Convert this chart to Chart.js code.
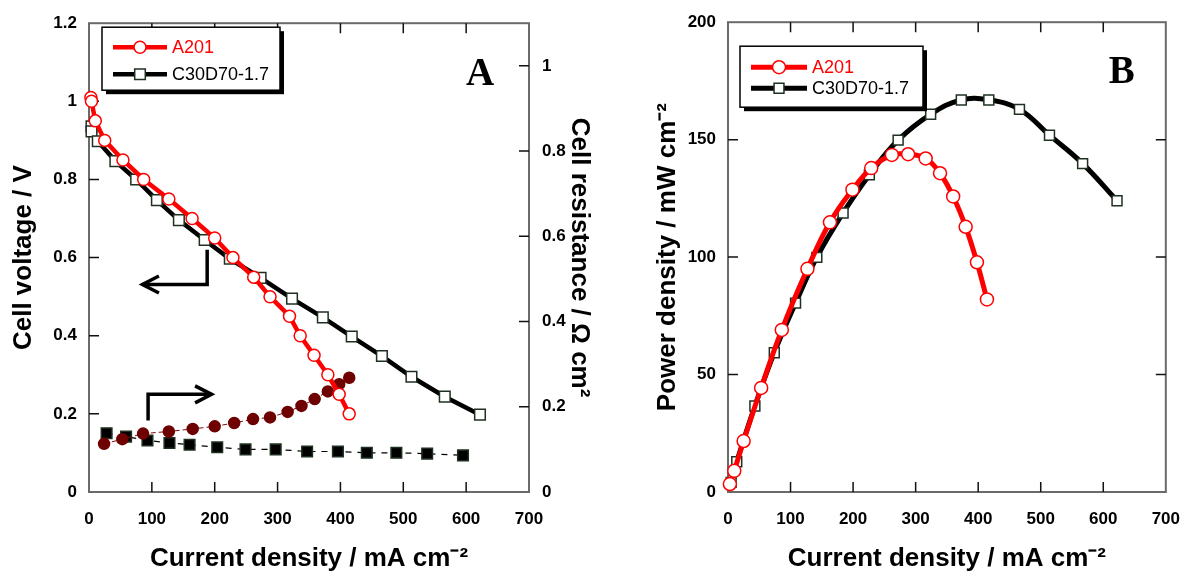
<!DOCTYPE html>
<html>
<head>
<meta charset="utf-8">
<script src="https://cdn.jsdelivr.net/npm/chart.js@4.4.0/dist/chart.umd.min.js"></script>
<style>
  html, body { margin: 0; padding: 0; background: #fff; width: 1197px; height: 571px; overflow: hidden; }
  .panel { position: absolute; top: 0; height: 571px; }
  #wrapA { left: 0; width: 600px; }
  #wrapB { left: 640px; width: 557px; }
</style>
</head>
<body>
<div class="panel" id="wrapA"><canvas id="chartA"></canvas></div>
<div class="panel" id="wrapB"><canvas id="chartB"></canvas></div>
<script>
/* ---------- tick labels ---------- */
const xTicks = [0, 100, 200, 300, 400, 500, 600, 700];
const voltTicks = [0, 0.2, 0.4, 0.6, 0.8, 1, 1.2];
const resTicks = [0, 0.2, 0.4, 0.6, 0.8, 1];
const powerTicks = [0, 50, 100, 150, 200];

const seriesNames = ["A201", "C30D70-1.7"];

/* ---------- panel A : polarisation ---------- */
const jVoltA201 = [3, 4, 10, 25, 54, 87, 127, 164, 200, 229, 262, 288, 319, 336, 358, 380, 398, 414];
const voltA201  = [1.01, 1.0, 0.95, 0.90, 0.85, 0.80, 0.75, 0.70, 0.65, 0.60, 0.55, 0.50, 0.45, 0.40, 0.35, 0.30, 0.25, 0.20];

const jVoltC30 = [4, 4, 14, 42, 75, 108, 143, 184, 224, 273, 323, 372, 418, 466, 513, 566, 622];
const voltC30  = [0.936, 0.923, 0.898, 0.847, 0.80, 0.747, 0.696, 0.645, 0.597, 0.548, 0.495, 0.447, 0.398, 0.348, 0.295, 0.244, 0.198];

/* cell resistance (right axis) */
const jResA201 = [24, 53, 86, 127, 165, 200, 231, 261, 288, 316, 338, 359, 380, 398, 414];
const resA201  = [0.113, 0.124, 0.137, 0.142, 0.148, 0.154, 0.162, 0.171, 0.175, 0.188, 0.202, 0.218, 0.236, 0.253, 0.268];

const jResC30 = [28, 59, 93, 128, 160, 204, 249, 297, 347, 396, 442, 489, 538, 595];
const resC30  = [0.138, 0.130, 0.121, 0.115, 0.111, 0.105, 0.100, 0.100, 0.095, 0.095, 0.092, 0.092, 0.090, 0.086];

/* ---------- panel B : power density ---------- */
const jPowA201 = [3, 10, 25, 53, 86, 127, 163, 199, 229, 262, 288, 316, 339, 360, 380, 398, 414];
const powA201  = [3.4, 9, 21.7, 44.3, 69, 95, 114.8, 128.7, 137.9, 143.5, 143.8, 142, 135.7, 125.8, 112.9, 97.8, 82];

const jPowC30 = [5, 14, 43, 74, 108, 142, 184, 226, 272, 324, 373, 417, 466, 514, 567, 622];
const powC30  = [4.1, 12.9, 36.6, 59.3, 80.4, 99.9, 118.8, 135, 149.8, 160.8, 166.9, 166.9, 162.9, 151.9, 139.8, 124];

/* arrows in panel A (current density, voltage) */
const arrowPaths = [
  [[188, 0.62], [188, 0.531], [85, 0.531]],
  [[94, 0.183], [94, 0.25], [195, 0.25]]
];

const SANS = '"Liberation Sans", Arial, Helvetica, sans-serif';
const SERIF = '"Liberation Serif", "Times New Roman", serif';
Chart.defaults.font.family = SANS;
Chart.defaults.color = "#000";

const pts = (xs, ys) => xs.map((x, i) => ({ x: x, y: ys[i] }));
const fixTicks = list => scale => { scale.ticks = list.map(v => ({ value: v })); };
const tickFont = { size: 17, weight: "bold", family: SANS };
const titleFont = { size: 26, weight: "bold", family: SANS, lineHeight: 1 };

/* --------------------------------------
   frame with inward ticks
----------------------------------------*/
const framePlugin = {
  id: "frame",
  beforeDatasetsDraw(chart, args, o) {
    const { ctx, chartArea: a, scales } = chart;
    ctx.save();
    ctx.strokeStyle = "#6a6a6a";
    ctx.lineWidth = 2;
    ctx.strokeRect(a.left, a.top, a.right - a.left, a.bottom - a.top);
    ctx.strokeStyle = "#111";
    ctx.lineWidth = 1.5;
    const L = 10;
    ctx.beginPath();
    scales.x.ticks.forEach(t => {
      const px = scales.x.getPixelForValue(t.value);
      if (px <= a.left + 1 || px >= a.right - 1) return;
      ctx.moveTo(px, a.bottom); ctx.lineTo(px, a.bottom - L);
      ctx.moveTo(px, a.top); ctx.lineTo(px, a.top + L);
    });
    o.sides.forEach(([id, side]) => {
      const s = scales[id];
      s.ticks.forEach(t => {
        const py = s.getPixelForValue(t.value);
        if (py <= a.top + 1 || py >= a.bottom - 1) return;
        const x0 = side === "left" ? a.left : a.right;
        ctx.moveTo(x0, py);
        ctx.lineTo(x0 + (side === "left" ? L : -L), py);
      });
    });
    ctx.stroke();
    ctx.restore();
  }
};

/* --------------------------------------
   boxed legend, panel letter, arrows
----------------------------------------*/
const decorPlugin = {
  id: "decor",
  afterDraw(chart, args, o) {
    const { ctx, chartArea: a } = chart;
    const lg = o.legend;
    const x0 = a.left + lg.dx, y0 = a.top + lg.dy;
    ctx.save();
    ctx.fillStyle = "#000";
    ctx.fillRect(x0 + 4, y0 + 4, lg.w, lg.h);
    ctx.fillStyle = "#fff";
    ctx.fillRect(x0, y0, lg.w, lg.h);
    ctx.strokeStyle = "#000";
    ctx.lineWidth = 1.5;
    ctx.strokeRect(x0, y0, lg.w, lg.h);
    [0, 1].forEach(i => {
      const ds = chart.data.datasets[i];
      const y = y0 + lg.rowY[i];
      ctx.strokeStyle = ds.borderColor;
      ctx.lineWidth = ds.borderWidth;
      ctx.beginPath();
      ctx.moveTo(x0 + lg.lineX[0], y);
      ctx.lineTo(x0 + lg.lineX[1], y);
      ctx.stroke();
      ctx.fillStyle = ds.pointBackgroundColor;
      ctx.strokeStyle = ds.pointBorderColor;
      ctx.lineWidth = ds.pointBorderWidth;
      Chart.helpers.drawPoint(ctx, {
        pointStyle: ds.pointStyle, radius: ds.pointRadius, rotation: 0, borderWidth: ds.pointBorderWidth
      }, x0 + (lg.lineX[0] + lg.lineX[1]) / 2, y);
      ctx.fillStyle = ds.borderColor;
      ctx.font = "18px " + SANS;
      ctx.textBaseline = "middle";
      ctx.textAlign = "left";
      ctx.fillText(seriesNames[i], x0 + lg.textX, y + 1);
    });

    ctx.fillStyle = "#000";
    ctx.font = "bold 39px " + SERIF;
    ctx.textAlign = "center";
    ctx.textBaseline = "alphabetic";
    ctx.fillText(o.letter, a.right - o.letterDx, a.top + o.letterDy);

    if (o.arrows) {
      const sx = chart.scales.x, sy = chart.scales.y;
      ctx.strokeStyle = "#000";
      ctx.lineWidth = 3.5;
      ctx.lineJoin = "miter";
      o.arrows.forEach(path => {
        const p = path.map(([x, y]) => [sx.getPixelForValue(x), sy.getPixelForValue(y)]);
        ctx.beginPath();
        p.forEach(([x, y], i) => i ? ctx.lineTo(x, y) : ctx.moveTo(x, y));
        ctx.stroke();
        const [tx, ty] = p[p.length - 1];
        const [px] = p[p.length - 2];
        const dir = Math.sign(tx - px);
        ctx.beginPath();
        ctx.moveTo(tx - dir * 16.5, ty - 8.5);
        ctx.lineTo(tx, ty);
        ctx.lineTo(tx - dir * 16.5, ty + 8.5);
        ctx.stroke();
      });
    }
    ctx.restore();
  }
};

function lineSet(label, data, color, width, style, radius, fill, edge, extra) {
  return Object.assign({
    label: label,
    data: data,
    borderColor: color,
    borderWidth: width,
    pointStyle: style,
    pointRadius: radius,
    pointHoverRadius: radius,
    pointBackgroundColor: fill,
    pointBorderColor: edge,
    pointBorderWidth: 1.5,
    tension: 0,
    clip: false,
    showLine: true
  }, extra || {});
}

/* --------------------------------------
   Panel A
----------------------------------------*/
new Chart(document.getElementById("chartA"), {
  type: "scatter",
  data: {
    datasets: [
      lineSet(seriesNames[0], pts(jVoltA201, voltA201), "#ff0000", 4.5, "circle", 6, "#ffffff", "#ff0000"),
      lineSet(seriesNames[1], pts(jVoltC30, voltC30), "#000000", 4.5, "rect", 7.5, "#ffffff", "#1f3020"),
      lineSet(seriesNames[0] + " resistance", pts(jResA201, resA201), "#7a0a0a", 1, "circle", 5.5, "#6e0000", "#6e0000",
        { yAxisID: "y1", borderDash: [5, 3] }),
      lineSet(seriesNames[1] + " resistance", pts(jResC30, resC30), "#000000", 1.2, "rect", 7.5, "#000000", "#1f3020",
        { yAxisID: "y1", borderDash: [6, 6] })
    ]
  },
  options: {
    responsive: true,
    maintainAspectRatio: false,
    devicePixelRatio: 1,
    animation: false,
    layout: { padding: { top: 19, right: 0, bottom: 0, left: 0 } },
    plugins: {
      legend: { display: false },
      tooltip: { enabled: false },
      frame: { sides: [["y", "left"], ["y1", "right"]] },
      decor: {
        legend: { dx: 13, dy: 4, w: 178, h: 63, rowY: [20, 47], lineX: [11, 65], textX: 70 },
        letter: "A", letterDx: 49, letterDy: 62,
        arrows: arrowPaths
      }
    },
    scales: {
      x: {
        type: "linear", min: 0, max: 700,
        afterBuildTicks: fixTicks(xTicks),
        afterFit: s => { s.height = 79; },
        grid: { display: false, drawTicks: false },
        border: { display: false },
        ticks: { font: tickFont, padding: 17, maxRotation: 0, callback: v => String(v) },
        title: { display: true, text: "Current density / mA cm⁻²", font: titleFont, padding: { top: 0, bottom: -1 } }
      },
      y: {
        type: "linear", position: "left", min: 0, max: 1.2,
        afterBuildTicks: fixTicks(voltTicks),
        afterFit: s => { s.width = 89; },
        grid: { display: false, drawTicks: false },
        border: { display: false },
        ticks: { font: tickFont, padding: 12, callback: v => String(v) },
        title: { display: true, text: "Cell voltage / V", font: titleFont, padding: { top: 11, bottom: 0 } }
      },
      y1: {
        type: "linear", position: "right", min: 0, max: 1.1,
        afterBuildTicks: fixTicks(resTicks),
        afterFit: s => { s.width = 71; },
        grid: { display: false, drawTicks: false },
        border: { display: false },
        ticks: { font: tickFont, padding: 13, callback: v => String(v) },
        title: { display: true, text: "Cell resistance / Ω cm²", font: titleFont, padding: { top: 8, bottom: 0 } }
      }
    }
  },
  plugins: [framePlugin, decorPlugin]
});

/* --------------------------------------
   Panel B
----------------------------------------*/
new Chart(document.getElementById("chartB"), {
  type: "scatter",
  data: {
    datasets: [
      lineSet(seriesNames[0], pts(jPowA201, powA201), "#ff0000", 5, "circle", 6.5, "#ffffff", "#ff0000", { tension: 0.4 }),
      lineSet(seriesNames[1], pts(jPowC30, powC30), "#000000", 5, "rect", 7, "#ffffff", "#1f3020", { tension: 0.4 })
    ]
  },
  options: {
    responsive: true,
    maintainAspectRatio: false,
    devicePixelRatio: 1,
    animation: false,
    layout: { padding: { top: 21, right: 16, bottom: 0, left: 0 } },
    plugins: {
      legend: { display: false },
      tooltip: { enabled: false },
      frame: { sides: [["y", "left"], ["y", "right"]] },
      decor: {
        legend: { dx: 12, dy: 24, w: 183, h: 61, rowY: [21, 42], lineX: [11, 67], textX: 72 },
        letter: "B", letterDx: 44, letterDy: 61
      }
    },
    scales: {
      x: {
        type: "linear", min: 0, max: 700,
        afterBuildTicks: fixTicks(xTicks),
        afterFit: s => { s.height = 79; },
        grid: { display: false, drawTicks: false },
        border: { display: false },
        ticks: { font: tickFont, padding: 17, maxRotation: 0, callback: v => String(v) },
        title: { display: true, text: "Current density / mA cm⁻²", font: titleFont, padding: { top: 0, bottom: -1 } }
      },
      y: {
        type: "linear", position: "left", min: 0, max: 200,
        afterBuildTicks: fixTicks(powerTicks),
        afterFit: s => { s.width = 88; },
        grid: { display: false, drawTicks: false },
        border: { display: false },
        ticks: { font: tickFont, padding: 12, callback: v => String(v) },
        title: { display: true, text: "Power density / mW cm⁻²", font: titleFont, padding: { top: 15, bottom: 0 } }
      }
    }
  },
  plugins: [framePlugin, decorPlugin]
});
</script>
</body>
</html>
